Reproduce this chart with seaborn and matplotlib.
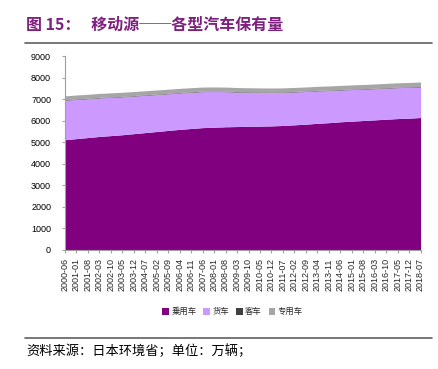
import matplotlib
matplotlib.use("Agg")
import numpy as np
import pandas as pd
import matplotlib.pyplot as plt
import seaborn as sns

# 数据（万辆），按 7 个月间隔读取
months = ["2000-06", "2001-01", "2001-08", "2002-03", "2002-10", "2003-05", "2003-12",
          "2004-07", "2005-02", "2005-09", "2006-04", "2006-11", "2007-06", "2008-01",
          "2008-08", "2009-03", "2009-10", "2010-05", "2010-12", "2011-07", "2012-02",
          "2012-09", "2013-04", "2013-11", "2014-06", "2015-01", "2015-08", "2016-03",
          "2016-10", "2017-05", "2017-12", "2018-07"]
cars = [5120, 5170, 5220, 5270, 5310, 5350, 5400, 5450, 5500, 5550, 5600, 5640, 5680,
        5700, 5720, 5730, 5740, 5750, 5760, 5780, 5810, 5840, 5880, 5910, 5950, 5980,
        6010, 6040, 6070, 6100, 6120, 6150]
trucks = [1830, 1820, 1800, 1790, 1775, 1760, 1745, 1730, 1715, 1700, 1690, 1680, 1670,
          1655, 1630, 1600, 1580, 1565, 1550, 1535, 1525, 1515, 1505, 1490, 1475, 1465,
          1455, 1445, 1440, 1435, 1430, 1420]
buses = [23, 23, 23, 23, 23, 23, 23, 23, 23, 23, 23, 23, 23, 23, 23, 23, 23, 23, 23, 23,
         23, 23, 23, 23, 23, 23, 23, 23, 23, 23, 23, 23]
special = [180, 182, 184, 185, 186, 187, 188, 189, 190, 190, 190, 190, 190, 190, 189, 188,
           187, 186, 186, 186, 187, 188, 189, 190, 192, 194, 196, 198, 200, 202, 204, 206]

labels = ["乗用车", "货车", "客车", "专用车"]
colors = ["#800080", "#CC99FF", "#404040", "#A6A6A6"]

df = pd.DataFrame({"month": months, labels[0]: cars, labels[1]: trucks,
                   labels[2]: buses, labels[3]: special})

sns.set_style("white")
plt.rcParams["font.family"] = ["Noto Sans CJK SC", "DejaVu Sans"]

fig = plt.figure(figsize=(4.39, 3.69), dpi=100)
ax = fig.add_axes([0.148, 0.3225, 0.81, 0.5255])

x = np.arange(len(df))
ax.stackplot(x, [df[c] for c in labels], colors=colors, labels=labels, linewidth=0)

ax.set_xlim(0, len(df) - 1)
ax.set_ylim(0, 9000)
ax.set_yticks(range(0, 9001, 1000))
ax.tick_params(axis="y", labelsize=6.5, length=2, colors="#000000", pad=8)
ax.set_xticks(x)
ax.set_xticklabels(df["month"], rotation=90, fontsize=6.5, family=["Liberation Sans", "DejaVu Sans"])
ax.tick_params(axis="x", length=2, pad=4)
for lab in ax.get_yticklabels():
    lab.set_family(["Liberation Sans", "DejaVu Sans"])
for s in ["top", "right"]:
    ax.spines[s].set_visible(False)
for s in ["left", "bottom"]:
    ax.spines[s].set_color("#A0A0A0")
    ax.spines[s].set_linewidth(0.8)
ax.tick_params(axis="both", which="both", color="#A0A0A0", direction="out", left=True, bottom=True)
ax.grid(False)

leg = fig.legend(*ax.get_legend_handles_labels(), loc="center", bbox_to_anchor=(0.53, 0.155),
                 ncol=4, frameon=False, fontsize=6, handlelength=0.8, handleheight=0.8,
                 handletextpad=0.3, columnspacing=0.8)

# 标题与分隔线
fig.text(0.06, 0.932, "图 15：   移动源\u2500\u2500各型汽车保有量", fontsize=11.5, fontweight="bold",
         color="#7F1F7F", va="center", ha="left")
fig.add_artist(plt.Line2D([0.057, 0.983], [0.884, 0.884], color="#606060", linewidth=1.2))
fig.add_artist(plt.Line2D([0.057, 0.983], [0.085, 0.085], color="#606060", linewidth=1.2))
fig.text(0.06, 0.049, "资料来源：日本环境省；单位：万辆；", fontsize=9.5, color="#000000",
         va="center", ha="left")

fig.savefig("out.png", dpi=100)
